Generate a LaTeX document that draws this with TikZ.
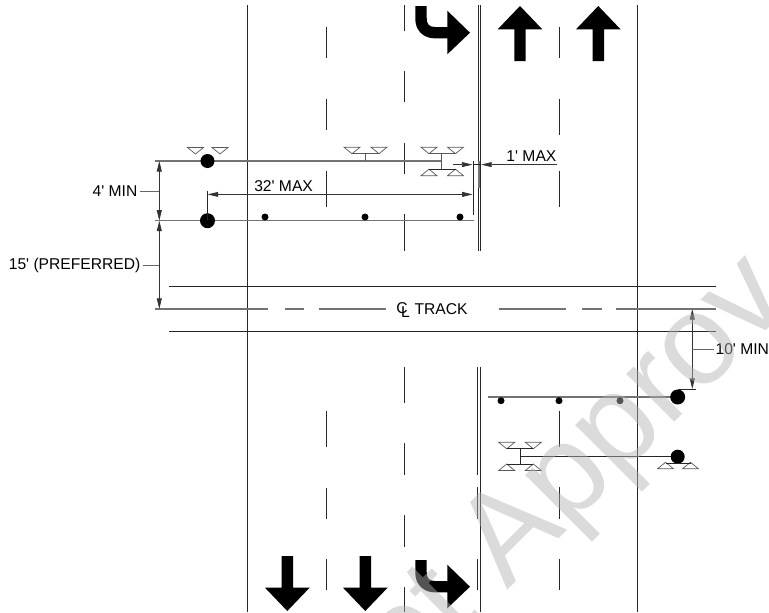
\documentclass[tikz,border=0pt]{standalone}
\usepackage{fontspec}
\newfontfamily\labelfont{Liberation Sans}
\usepackage{tikz}
\usetikzlibrary{arrows.meta}
\tikzset{
  road/.style = {line width = .45pt, color = black!85},
  stopline/.style = {line width = .8pt, color = black!55},
  dim/.style = {line width = .45pt, color = black!80, {Triangle[length = 6pt, width = 2.8pt]}-{Triangle[length = 6pt, width = 2.8pt]}},
  tipend/.style = {line width = .45pt, color = black!80, -{Triangle[length = 6pt, width = 2.8pt]}},
  leader/.style = {line width = .45pt, color = black!60},
  label/.style = {font = \labelfont\fontsize{8.9}{10}\selectfont, inner sep = 1pt},
  head/.style = {line width = .4pt, color = black!65},
  headdown/.pic = {\draw[head] (-8,0) -- (8,0) -- (0,6.5) -- cycle;},
  headup/.pic = {\draw[head] (-8,0) -- (8,0) -- (0,-6.5) -- cycle;},
  wmark/.style = {font = \labelfont\fontsize{73}{80}\selectfont, text = black!30, text opacity = .47, rotate = 45, anchor = base west, inner sep = 0pt}
}
\newcommand{\turnarrow}[1]{
  \fill[shift = {(0,#1)}] (415.3,6) -- (426.7,6) -- (426.7,18) .. controls (426.7,24) and (429,27) .. (435,27) -- (447.3,27) --
       (447.3,10.7) -- (470,32.7) -- (447.3,54.3) -- (447.3,38.4) -- (435,38.4) .. controls (423,38.4) and (415.3,30) .. (415.3,19) -- cycle;
}
\newcommand{\lanearrowup}[1]{\fill (#1-5.7,61) -- (#1-5.7,29.3) -- (#1-22.3,29.3) -- (#1,6) -- (#1+22.3,29.3) -- (#1+5.7,29.3) -- (#1+5.7,61) -- cycle;}
\newcommand{\lanearrowdown}[1]{\fill (#1-5.7,556) -- (#1-5.7,587.7) -- (#1-22.3,587.7) -- (#1,611) -- (#1+22.3,587.7) -- (#1+5.7,587.7) -- (#1+5.7,556) -- cycle;}
\begin{document}
\begin{tikzpicture}[x = .02cm, y = -.02cm]
        \useasboundingbox (0,0) rectangle (769,613);
        \draw[road] (247.5,5) -- (247.5,612);
        \draw[road] (637.3,5) -- (637.3,612);
        \draw[road] (478,5) -- (478,250.7);
        \draw[road] (480.3,5) -- (480.3,250.7);
        \draw[stopline] (479.2,161) -- (479.2,188);
        \draw[road] (480.3,367) -- (480.3,612);
        \foreach \a/\b in {367/475, 487/519, 559/590} \draw[road] (477.7,\a) -- (477.7,\b);
        \foreach \a/\b in {27/58, 99/130, 171/207, 411/447, 488/519, 559/590} \draw[road] (326,\a) -- (326,\b);
        \foreach \a/\b in {5/31, 71/102, 143/174, 214/251, 367/403, 443/475, 515/547, 587/612} \draw[road] (404.4,\a) -- (404.4,\b);
        \foreach \a/\b in {27/58, 99/135, 171/207, 411/447, 487/519, 559/590} \draw[road] (559,\a) -- (559,\b);

        \draw[road] (169,286) -- (716,286);
        \draw[road] (169,331.5) -- (716,331.5);
        \foreach \a/\b in {155/268, 285/304, 319/386, 499/566, 582/602, 616/716} \draw[stopline] (\a,309) -- (\b,309);
        \node[label] (clc) at (402,308.5) {C};
        \node[label] (cll) at (405.5,312.5) {L};
        \node[label, anchor = west] (track) at (412.5,309) {TRACK};

        \lanearrowup{520}
        \lanearrowup{598.3}
        \lanearrowdown{287.3}
        \lanearrowdown{365.3}
        \turnarrow{0}
        \turnarrow{554}

        \draw[stopline] (155,161) -- (441.7,161);
        \draw[stopline] (155,220.7) -- (473.5,220.7);
        \fill (207.5,161) circle (7);
        \fill (207.5,220.7) circle (7.5);
        \foreach \x in {265,365,460} \fill (\x,217) circle (3.5);
        \foreach \x in {195.5,220} \pic at (\x,147.5) {headdown};
        \foreach \x in {352,379,429,455.5} \pic at (\x,147.2) {headdown};
        \foreach \x in {429,455.5} \pic at (\x,175.7) {headup};
        \draw[head] (352,153.7) -- (379,153.7);
        \draw[head] (365.7,153.7) -- (365.7,161);
        \draw[head] (429,153.7) -- (455.5,153.7);
        \draw[head] (441.7,153.7) -- (441.7,169.5);
        \draw[road] (429,169.5) -- (455.5,169.5);

        \draw[road] (207.5,191) -- (207.5,220);
        \draw[road] (473.2,161) -- (473.2,215);
        \draw[dim] (207.7,194.4) -- (472.7,194.4);
        \node[label, anchor = east] (maxlong) at (315,186) {32' MAX};
        \draw[tipend] (453,164.6) -- (472.5,164.6);
        \draw[tipend] (556.7,164.6) -- (481.2,164.6);
        \draw[road] (472.5,164.6) -- (481.2,164.6);
        \node[label, anchor = east] (maxshort) at (558.5,156) {1' MAX};

        \draw[dim] (159.3,161) -- (159.3,220.7);
        \draw[dim] (159.3,220.7) -- (159.3,309);
        \node[label, anchor = east] (minfour) at (139.5,191.3) {4' MIN};
        \node[label, anchor = east] (prefer) at (142.5,265) {15' (PREFERRED)};
        \draw[leader] (minfour) -- (159.3,191.3);
        \draw[leader] (prefer) -- (159.3,265);

        \draw[stopline] (488,397) -- (677.7,397);
        \fill (677.7,397) circle (7.5);
        \foreach \x in {501,559,620} \fill (\x,400.7) circle (3.5);
        \draw[road] (677.7,389.2) -- (695.7,389.2);
        \draw[dim] (692.3,309) -- (692.3,389);
        \node[label, anchor = west] (minten) at (713.5,349.5) {10' MIN};
        \draw[leader] (minten) -- (692.3,349.5);

        \draw[road] (520.3,456.7) -- (677.7,456.7);
        \fill (677.7,456.7) circle (7);
        \foreach \x in {665.5,690.5} \pic at (\x,468.8) {headup};
        \draw[road] (665.5,463) -- (690.5,463);
        \foreach \x in {506.7,533.3} \pic at (\x,442.3) {headdown};
        \foreach \x in {506.7,533.3} \pic at (\x,470.5) {headup};
        \draw[road] (506.7,448.7) -- (533.3,448.7);
        \draw[road] (506.7,464.3) -- (533.3,464.3);
        \draw[road] (520.3,448.7) -- (520.3,464.3);

        \node[wmark] (stamp) at (406,691) {ot Approv};
\end{tikzpicture}
\end{document}
